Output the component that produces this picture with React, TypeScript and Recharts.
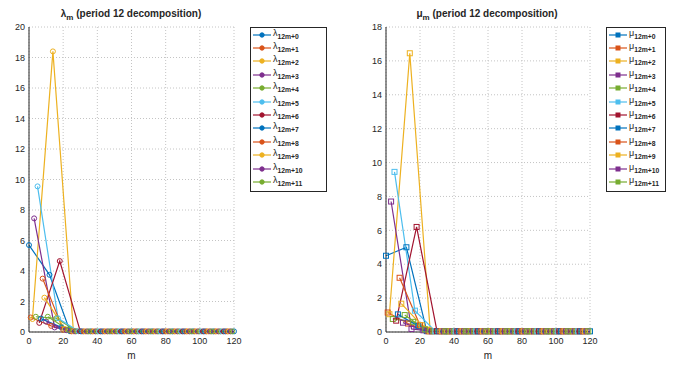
import React from 'react';
import { LineChart, Line, XAxis, YAxis, CartesianGrid, Legend } from 'recharts';

const palette = ['#0072BD', '#D95319', '#EDB120', '#7E2F8E', '#77AC30', '#4DBEEE', '#A2142F'];
const subLabels = ['12m+0', '12m+1', '12m+2', '12m+3', '12m+4', '12m+5', '12m+6', '12m+7', '12m+8', '12m+9', '12m+10', '12m+11'];
const xTicks = [0, 20, 40, 60, 80, 100, 120];
const lambdaTicks = [0, 2, 4, 6, 8, 10, 12, 14, 16, 18, 20];
const muTicks = [0, 2, 4, 6, 8, 10, 12, 14, 16, 18];

// lambda_{12m+k}, m = 0,1,2,...
const lambda0 = [5.7, 3.75, 0.05, 0.04, 0.04, 0.04, 0.04, 0.04, 0.04, 0.04, 0.04];
const lambda1 = [0.95, 0.4, 0.04, 0.04, 0.04, 0.04, 0.04, 0.04, 0.04, 0.04];
const lambda2 = [0.85, 18.4, 0.05, 0.04, 0.04, 0.04, 0.04, 0.04, 0.04, 0.04];
const lambda3 = [7.45, 0.3, 0.04, 0.04, 0.04, 0.04, 0.04, 0.04, 0.04, 0.04];
const lambda4 = [1.0, 0.9, 0.05, 0.04, 0.04, 0.04, 0.04, 0.04, 0.04, 0.04];
const lambda5 = [9.55, 0.9, 0.05, 0.04, 0.04, 0.04, 0.04, 0.04, 0.04, 0.04];
const lambda6 = [0.6, 4.65, 0.05, 0.04, 0.04, 0.04, 0.04, 0.04, 0.04, 0.04];
const lambda7 = [0.88, 0.3, 0.04, 0.04, 0.04, 0.04, 0.04, 0.04, 0.04, 0.04];
const lambda8 = [3.5, 0.15, 0.04, 0.04, 0.04, 0.04, 0.04, 0.04, 0.04, 0.04];
const lambda9 = [2.25, 0.2, 0.04, 0.04, 0.04, 0.04, 0.04, 0.04, 0.04, 0.04];
const lambda10 = [0.68, 0.12, 0.04, 0.04, 0.04, 0.04, 0.04, 0.04, 0.04, 0.04];
const lambda11 = [1.0, 0.15, 0.04, 0.04, 0.04, 0.04, 0.04, 0.04, 0.04, 0.04];

// mu_{12m+k}
const mu0 = [4.5, 5.0, 0.05, 0.04, 0.04, 0.04, 0.04, 0.04, 0.04, 0.04, 0.04];
const mu1 = [1.15, 0.5, 0.04, 0.04, 0.04, 0.04, 0.04, 0.04, 0.04, 0.04];
const mu2 = [1.05, 16.45, 0.05, 0.04, 0.04, 0.04, 0.04, 0.04, 0.04, 0.04];
const mu3 = [7.7, 0.18, 0.04, 0.04, 0.04, 0.04, 0.04, 0.04, 0.04, 0.04];
const mu4 = [0.77, 0.6, 0.04, 0.04, 0.04, 0.04, 0.04, 0.04, 0.04, 0.04];
const mu5 = [9.45, 1.26, 0.05, 0.04, 0.04, 0.04, 0.04, 0.04, 0.04, 0.04];
const mu6 = [0.67, 6.2, 0.05, 0.04, 0.04, 0.04, 0.04, 0.04, 0.04, 0.04];
const mu7 = [1.04, 0.35, 0.04, 0.04, 0.04, 0.04, 0.04, 0.04, 0.04, 0.04];
const mu8 = [3.2, 0.4, 0.04, 0.04, 0.04, 0.04, 0.04, 0.04, 0.04, 0.04];
const mu9 = [1.67, 0.4, 0.04, 0.04, 0.04, 0.04, 0.04, 0.04, 0.04, 0.04];
const mu10 = [0.55, 0.1, 0.04, 0.04, 0.04, 0.04, 0.04, 0.04, 0.04, 0.04];
const mu11 = [1.0, 0.15, 0.04, 0.04, 0.04, 0.04, 0.04, 0.04, 0.04, 0.04];

const lambdaSeries = [lambda0, lambda1, lambda2, lambda3, lambda4, lambda5, lambda6, lambda7, lambda8, lambda9, lambda10, lambda11];
const muSeries = [mu0, mu1, mu2, mu3, mu4, mu5, mu6, mu7, mu8, mu9, mu10, mu11];

const FONT = '"Liberation Sans", Arial, Helvetica, sans-serif';
const AX = '#262626';

const toPoints = (vals: number[], k: number) => vals.map((y, j) => ({ x: k + 12 * j, y }));
const colorOf = (k: number) => palette[k % palette.length];

const squareDot = (color: string) => (p: any) => (
  <rect key={`sq-${p.index}`} x={p.cx - 2.5} y={p.cy - 2.5} width={5} height={5} fill="none" stroke={color} strokeWidth={1} />
);

function LegendBox({ sym, square, width, lineX }: { sym: string; square: boolean; width: number; lineX: number }) {
  return (
    <div style={{ border: `1px solid ${AX}`, background: '#fff', width, boxSizing: 'border-box', paddingBottom: 2, fontFamily: FONT }}>
      {subLabels.map((s, k) => {
        const c = colorOf(k);
        return (
          <div key={s} style={{ height: 13.4, display: 'flex', alignItems: 'center' }}>
            <svg width={lineX + 20} height={8} style={{ flex: 'none' }}>
              <line x1={lineX} y1={4} x2={lineX + 18} y2={4} stroke={c} strokeWidth={1.2} />
              {square ? (
                <rect x={lineX + 7} y={2} width={4} height={4} fill={c} stroke={c} strokeWidth={1} />
              ) : (
                <circle cx={lineX + 9} cy={4} r={2.2} fill={c} stroke={c} strokeWidth={1} />
              )}
            </svg>
            <span style={{ fontSize: 9, color: AX, lineHeight: '8px', whiteSpace: 'nowrap' }}>
              {sym}
              <sub style={{ fontSize: 6.8, fontWeight: 'bold', verticalAlign: '-3px' }}>{s}</sub>
            </span>
          </div>
        );
      })}
    </div>
  );
}

function Panel({ series, ticks, yMax, width, marginRight, square, sym, legendLeft, legendWidth, lineX }: any) {
  return (
    <LineChart width={width} height={366} margin={{ top: 27, right: marginRight, bottom: 0, left: 0 }}>
      <CartesianGrid stroke="#c4c4c4" strokeDasharray="1 2" />
      <XAxis
        dataKey="x"
        type="number"
        domain={[0, 120]}
        ticks={xTicks}
        allowDuplicatedCategory={false}
        height={34}
        tickLine={false}
        tickSize={0}
        tickMargin={6}
        stroke={AX}
        tick={{ fontSize: 9, fill: AX, fontFamily: FONT }}
        label={{ value: 'm', position: 'insideBottom', offset: 7, fontSize: 10, fill: AX, fontFamily: FONT }}
      />
      <YAxis
        type="number"
        domain={[0, yMax]}
        ticks={ticks}
        width={29}
        tickLine={false}
        tickSize={0}
        tickMargin={4}
        stroke={AX}
        tick={{ fontSize: 9, fill: AX, fontFamily: FONT }}
      />
      <Legend
        layout="vertical"
        align="center"
        verticalAlign="middle"
        wrapperStyle={{ left: legendLeft, top: 27, width: legendWidth }}
        content={() => <LegendBox sym={sym} square={square} width={legendWidth} lineX={lineX} />}
      />
      {series.map((vals: number[], k: number) => {
        const c = colorOf(k);
        return (
          <Line
            key={k}
            data={toPoints(vals, k)}
            dataKey="y"
            name={`${sym}${subLabels[k]}`}
            stroke={c}
            strokeWidth={1.2}
            type="linear"
            isAnimationActive={false}
            dot={square ? squareDot(c) : { r: 2.5, fill: 'none', stroke: c, strokeWidth: 1 }}
            activeDot={false}
          />
        );
      })}
    </LineChart>
  );
}

function Title({ sym, center }: { sym: string; center: number }) {
  return (
    <div
      style={{
        position: 'absolute',
        left: center - 100,
        width: 200,
        top: 8,
        textAlign: 'center',
        fontFamily: FONT,
        fontWeight: 'bold',
        fontSize: 10,
        color: AX,
        whiteSpace: 'nowrap',
      }}
    >
      <span style={{ fontSize: 10 }}>{sym}</span>
      <sub style={{ fontSize: 8, verticalAlign: '-3px' }}>m</sub> (period 12 decomposition)
    </div>
  );
}

export default function App() {
  return (
    <div style={{ position: 'absolute', left: 0, top: 0, width: 673, height: 366, background: '#fff', overflow: 'hidden' }}>
      <div style={{ position: 'absolute', left: 0, top: 0 }}>
        <Panel series={lambdaSeries} ticks={lambdaTicks} yMax={20} width={340} marginRight={106} square={false} sym="λ" legendLeft={250} legendWidth={77} lineX={2} />
      </div>
      <div style={{ position: 'absolute', left: 357, top: 0 }}>
        <Panel series={muSeries} ticks={muTicks} yMax={18} width={316} marginRight={83} square={true} sym="μ" legendLeft={249} legendWidth={60} lineX={2} />
      </div>
      <Title sym="λ" center={131} />
      <Title sym="μ" center={487} />
    </div>
  );
}
